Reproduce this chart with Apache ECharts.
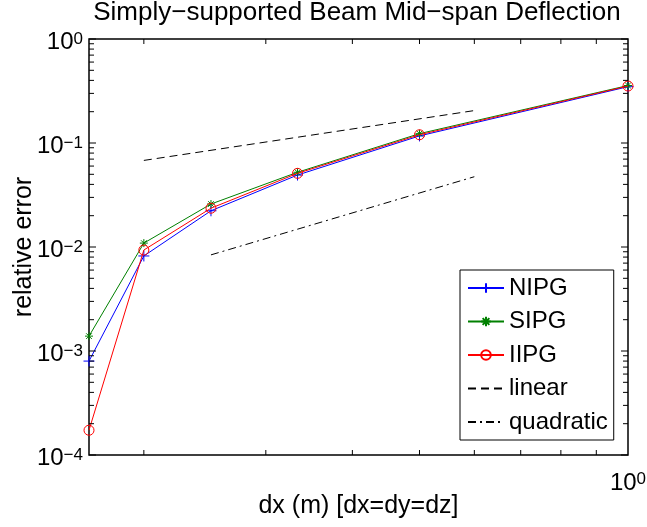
<!DOCTYPE html>
<html>
<head>
<meta charset="utf-8">
<script src="https://cdn.jsdelivr.net/npm/echarts@6/dist/echarts.min.js"></script>
<style>html,body{margin:0;padding:0;background:#fff}#c{width:647px;height:527px}</style>
</head>
<body>
<div id="c"></div>
<script>
// ---- data ----
const dx = [1/6, 1/5, 1/4, 1/3, 1/2, 1];
const nipg = [8.0e-4, 8.2e-3, 0.0223, 0.0492, 0.117, 0.348];
const sipg = [1.39e-3, 1.09e-2, 0.0259, 0.0523, 0.123, 0.357];
const iipg = [1.73e-4, 9.35e-3, 0.0236, 0.0511, 0.120, 0.353];
const linearX = [0.2, 0.6];
const linearY = [0.068, 0.205];
const quadX = [0.25, 0.6];
const quadY = [0.0084, 0.0474];
const xMinorTicks = [0.2, 0.3, 0.4, 0.5, 0.6, 0.7, 0.8, 0.9];
const yDecades = [1e-4, 1e-3, 1e-2, 1e-1, 1];

const FONT = '"Liberation Sans", Arial, Helvetica, sans-serif';
const zip = (a, b) => a.map((v, i) => [v, b[i]]);
const supRich = {
  b: {fontSize: 24, fontFamily: FONT, color: '#000', lineHeight: 24, verticalAlign: 'bottom', padding: [9, 0, 0, 0]},
  s: {fontSize: 17, fontFamily: FONT, color: '#000', lineHeight: 17, verticalAlign: 'top'}
};
const expLabel = v => {
  const e = Math.round(Math.log10(v));
  return '{b|10}{s|' + (e < 0 ? '\u2212' + (-e) : e) + '}';
};

const chart = echarts.init(document.getElementById('c'), null, {renderer: 'canvas'});
const option = {
  animation: false,
  backgroundColor: '#fff',
  title: {
    text: 'Simply\u2212supported Beam Mid\u2212span Deflection',
    left: 352, top: -5, textAlign: 'center',
    textStyle: {fontFamily: FONT, fontSize: 26, fontWeight: 'normal', color: '#000'}
  },
  grid: {left: 89, right: 19, top: 39, bottom: 72, outerBoundsMode: 'none', containLabel: false,
         show: true, borderColor: '#000', borderWidth: 1.5, backgroundColor: 'transparent'},
  xAxis: {
    type: 'log', logBase: 10, min: dx[0], max: 1,
    name: 'dx (m) [dx=dy=dz]', nameLocation: 'middle', nameGap: 39, nameMoveOverlap: false,
    nameTextStyle: {fontFamily: FONT, fontSize: 25, color: '#000'},
    axisLine: {show: false}, axisTick: {show: false}, splitLine: {show: false},
    axisLabel: {
      showMinLabel: false, showMaxLabel: true, margin: 16,
      formatter: v => Math.abs(v - 1) < 1e-6 ? expLabel(1) : '',
      rich: supRich
    }
  },
  yAxis: {
    type: 'log', logBase: 10, min: 1e-4, max: 1, splitNumber: 4,
    name: 'relative error', nameLocation: 'middle', nameGap: 52, nameMoveOverlap: false, nameRotate: 90,
    nameTextStyle: {fontFamily: FONT, fontSize: 25, color: '#000'},
    axisLine: {show: false}, axisTick: {show: false}, splitLine: {show: false},
    axisLabel: {margin: 6, formatter: expLabel, rich: supRich, padding: [7, 0, 0, 0]}
  },
  legend: {
    orient: 'vertical', left: 460, top: 270,
    backgroundColor: '#fff', borderColor: '#000', borderWidth: 1,
    padding: [6, 6, 6, 7], itemGap: 9.5, itemWidth: 36, itemHeight: 12,
    textStyle: {fontFamily: FONT, fontSize: 24, color: '#000', lineHeight: 24},
    data: ['NIPG', 'SIPG', 'IIPG',
      {name: 'linear', itemStyle: {opacity: 0}},
      {name: 'quadratic', itemStyle: {opacity: 0}}]
  },
  series: [
    {name: 'NIPG', type: 'line', data: zip(dx, nipg), color: '#0000ff',
     symbol: 'path://M0,-1L0,1M-1,0L1,0', symbolSize: 11,
     itemStyle: {color: '#0000ff', borderColor: '#0000ff', borderWidth: 1},
     lineStyle: {width: 1, color: '#0000ff'}, z: 3},
    {name: 'SIPG', type: 'line', data: zip(dx, sipg), color: '#008000',
     symbol: 'path://M0,-1L0,1M-1,0L1,0M-0.7,-0.7L0.7,0.7M-0.7,0.7L0.7,-0.7', symbolSize: 8,
     itemStyle: {color: '#008000', borderColor: '#008000', borderWidth: 1},
     lineStyle: {width: 1, color: '#008000'}, z: 4},
    {name: 'IIPG', type: 'line', data: zip(dx, iipg), color: '#ff0000',
     symbol: 'circle', symbolSize: 10,
     itemStyle: {color: 'rgba(0,0,0,0)', borderColor: '#ff0000', borderWidth: 1},
     lineStyle: {width: 1, color: '#ff0000'}, z: 5},
    {name: 'linear', type: 'line', data: zip(linearX, linearY), color: '#000',
     symbol: 'none', lineStyle: {width: 1, color: '#000', type: [8, 5]}, z: 2},
    {name: 'quadratic', type: 'line', data: zip(quadX, quadY), color: '#000',
     symbol: 'none', lineStyle: {width: 1, color: '#000', type: [8, 4, 2, 4]}, z: 2}
  ]
};
chart.setOption(option);

// tick marks (inward, on all four sides) placed via the axes' own scales
const px = v => chart.convertToPixel({xAxisIndex: 0}, v);
const py = v => chart.convertToPixel({yAxisIndex: 0}, v);
const L = px(dx[0]), R = px(1), T = py(1), B = py(1e-4);
const g = [];
const seg = (x1, y1, x2, y2) => g.push({type: 'line', silent: true, z: 10,
  shape: {x1, y1, x2, y2}, style: {stroke: '#000', lineWidth: 1}});
xMinorTicks.forEach(v => { const x = px(v); seg(x, B, x, B - 5); seg(x, T, x, T + 5); });
yDecades.forEach(d => {
  const y = py(d); seg(L, y, L + 7, y); seg(R, y, R - 7, y);
  if (d < 1) for (let k = 2; k <= 9; k++) {
    const ym = py(d * k); seg(L, ym, L + 5, ym); seg(R, ym, R - 5, ym);
  }
});
chart.setOption({graphic: g});
</script>
</body>
</html>
